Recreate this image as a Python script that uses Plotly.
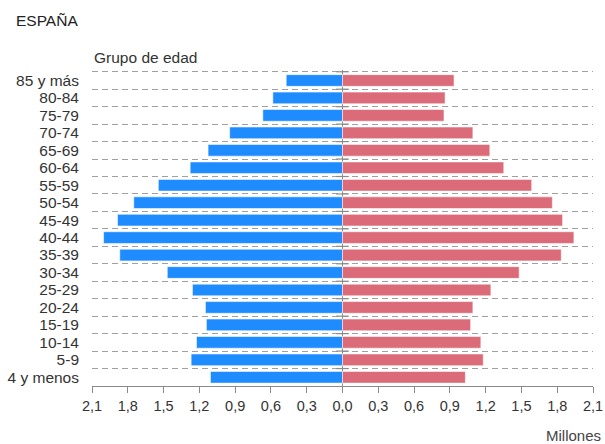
import plotly.graph_objects as go

# Age groups, youngest first (bottom of the pyramid)
grupos = ["4 y menos", "5-9", "10-14", "15-19", "20-24", "25-29", "30-34",
          "35-39", "40-44", "45-49", "50-54", "55-59", "60-64", "65-69",
          "70-74", "75-79", "80-84", "85 y más"]

# Population in millions
hombres = [1.107, 1.269, 1.224, 1.141, 1.149, 1.258, 1.469,
           1.867, 2.003, 1.886, 1.750, 1.544, 1.277, 1.127,
           0.946, 0.668, 0.584, 0.472]
mujeres = [1.030, 1.180, 1.160, 1.074, 1.093, 1.244, 1.481,
           1.834, 1.940, 1.845, 1.759, 1.586, 1.352, 1.235,
           1.093, 0.851, 0.860, 0.935]

# Symmetric x ticks, shown as absolute values with a decimal comma
tick_vals = [-2.1, -1.8, -1.5, -1.2, -0.9, -0.6, -0.3, 0.0,
             0.3, 0.6, 0.9, 1.2, 1.5, 1.8, 2.1]
tick_text = [f"{abs(v):.1f}".replace(".", ",") for v in tick_vals]

FONT = "Liberation Sans, Arial, Helvetica, sans-serif"
AZUL = "rgb(30,140,255)"
ROJO = "rgb(219,107,120)"
GRIS = "#8a8a8a"

pos = list(range(len(grupos)))

fig = go.Figure()
fig.add_trace(go.Bar(
    y=pos, x=[-v for v in hombres], orientation="h",
    marker=dict(color=AZUL, line=dict(color="rgba(255,255,255,0.55)", width=1)),
    name="Hombres", hoverinfo="skip",
))
fig.add_trace(go.Bar(
    y=pos, x=mujeres, orientation="h",
    marker=dict(color=ROJO, line=dict(color="rgba(255,255,255,0.55)", width=1)),
    name="Mujeres", hoverinfo="skip",
))

# small tick marks on the central axis at every group boundary
limites = [p + 0.5 for p in pos]
fig.add_trace(go.Scatter(
    x=[0] * len(limites), y=limites, mode="markers",
    marker=dict(symbol="line-ew-open", size=9, color=GRIS,
                line=dict(color=GRIS, width=1.2)),
    hoverinfo="skip", showlegend=False, cliponaxis=False,
))

fig.update_layout(
    width=605, height=444,
    margin=dict(l=92, r=12, t=70, b=58, autoexpand=False),
    paper_bgcolor="white", plot_bgcolor="white",
    barmode="overlay", bargap=0.33,
    showlegend=False,
    font=dict(family=FONT, size=15, color="#333"),
    xaxis=dict(
        range=[-2.1, 2.1], tickvals=tick_vals, ticktext=tick_text,
        automargin=False,
        showgrid=False, zeroline=True, zerolinecolor=GRIS, zerolinewidth=1.3,
        showline=True, linecolor=GRIS, linewidth=1.3,
        ticks="outside", ticklen=6, tickcolor=GRIS, tickwidth=1.3,
        tickfont=dict(size=14.5, color="#333"),
        layer="above traces",
    ),
    yaxis=dict(
        range=[-0.5, len(grupos) - 0.4],
        tickvals=pos, ticktext=grupos,
        automargin=False,
        showgrid=False, zeroline=False, showline=False, ticks="",
        tickfont=dict(size=15.5, color="#333"),
        ticklabelstandoff=12,
        minor=dict(tick0=0.5, dtick=1, showgrid=True, gridcolor="#a0a0a0",
                   griddash="6px,4px", gridwidth=1, ticks=""),
    ),
    annotations=[
        dict(text="ESPAÑA", xref="paper", yref="paper", x=-0.155, y=1.158,
             xanchor="left", yanchor="middle", showarrow=False,
             font=dict(size=15.5, color="#222")),
        dict(text="Grupo de edad", xref="paper", yref="paper", x=0.0, y=1.04,
             xanchor="left", yanchor="middle", showarrow=False,
             font=dict(size=15.5, color="#333")),
        dict(text="Millones", xref="paper", yref="paper", x=1.02, y=-0.158,
             xanchor="right", yanchor="middle", showarrow=False,
             font=dict(size=15, color="#444")),
    ],
)

fig.write_html("out.html")
